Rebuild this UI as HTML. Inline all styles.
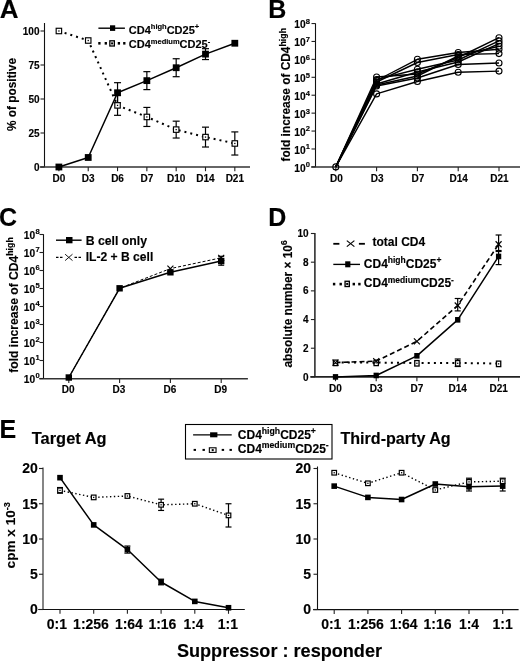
<!DOCTYPE html>
<html><head><meta charset="utf-8"><style>
html,body{margin:0;padding:0;background:#fff;overflow:hidden;}
svg{display:block;filter:blur(0.3px);}
text{font-family:"Liberation Sans", sans-serif;font-weight:bold;fill:#000;stroke:#000;stroke-width:0.15px;}
</style></head><body>
<svg width="520" height="661" viewBox="0 0 520 661">
<text transform="translate(-0.30,17.50) scale(1.040,1)" font-size="25" text-anchor="start" >A</text>
<line x1="44.50" y1="23.00" x2="44.50" y2="166.90" stroke="#111" stroke-width="1.1" stroke-linecap="butt"/>
<line x1="40.00" y1="166.90" x2="250.00" y2="166.90" stroke="#333" stroke-width="1.5" stroke-linecap="butt"/>
<line x1="40.50" y1="167.00" x2="44.50" y2="167.00" stroke="#222" stroke-width="1.1" stroke-linecap="butt"/>
<line x1="40.50" y1="133.00" x2="44.50" y2="133.00" stroke="#222" stroke-width="1.1" stroke-linecap="butt"/>
<line x1="40.50" y1="99.00" x2="44.50" y2="99.00" stroke="#222" stroke-width="1.1" stroke-linecap="butt"/>
<line x1="40.50" y1="65.00" x2="44.50" y2="65.00" stroke="#222" stroke-width="1.1" stroke-linecap="butt"/>
<line x1="40.50" y1="31.00" x2="44.50" y2="31.00" stroke="#222" stroke-width="1.1" stroke-linecap="butt"/>
<line x1="58.90" y1="166.90" x2="58.90" y2="171.20" stroke="#222" stroke-width="1.1" stroke-linecap="butt"/>
<line x1="88.22" y1="166.90" x2="88.22" y2="171.20" stroke="#222" stroke-width="1.1" stroke-linecap="butt"/>
<line x1="117.54" y1="166.90" x2="117.54" y2="171.20" stroke="#222" stroke-width="1.1" stroke-linecap="butt"/>
<line x1="146.86" y1="166.90" x2="146.86" y2="171.20" stroke="#222" stroke-width="1.1" stroke-linecap="butt"/>
<line x1="176.18" y1="166.90" x2="176.18" y2="171.20" stroke="#222" stroke-width="1.1" stroke-linecap="butt"/>
<line x1="205.50" y1="166.90" x2="205.50" y2="171.20" stroke="#222" stroke-width="1.1" stroke-linecap="butt"/>
<line x1="234.82" y1="166.90" x2="234.82" y2="171.20" stroke="#222" stroke-width="1.1" stroke-linecap="butt"/>
<text transform="translate(39.50,170.60)" font-size="10" text-anchor="end" >0</text>
<text transform="translate(39.50,136.60)" font-size="10" text-anchor="end" >25</text>
<text transform="translate(39.50,102.60)" font-size="10" text-anchor="end" >50</text>
<text transform="translate(39.50,68.60)" font-size="10" text-anchor="end" >75</text>
<text transform="translate(39.50,34.60)" font-size="10" text-anchor="end" >100</text>
<text transform="translate(58.90,182.00)" font-size="10" text-anchor="middle" >D0</text>
<text transform="translate(88.22,182.00)" font-size="10" text-anchor="middle" >D3</text>
<text transform="translate(117.54,182.00)" font-size="10" text-anchor="middle" >D6</text>
<text transform="translate(146.86,182.00)" font-size="10" text-anchor="middle" >D7</text>
<text transform="translate(176.18,182.00)" font-size="10" text-anchor="middle" >D10</text>
<text transform="translate(205.50,182.00)" font-size="10" text-anchor="middle" >D14</text>
<text transform="translate(234.82,182.00)" font-size="10" text-anchor="middle" >D21</text>
<text transform="translate(16.30,131.00) rotate(-90)" font-size="11.85" text-anchor="start" >% of positive</text>
<polyline points="58.90,31.00 88.22,40.52 117.54,105.39 146.86,116.95 176.18,129.60 205.50,137.08 234.82,143.47" fill="none" stroke="#000" stroke-width="2.0" stroke-linecap="butt" stroke-linejoin="round" stroke-dasharray="2 4"/>
<polyline points="58.90,167.00 88.22,157.48 117.54,92.74 146.86,80.64 176.18,67.72 205.50,54.12 234.82,43.24" fill="none" stroke="#000" stroke-width="1.5" stroke-linecap="butt" stroke-linejoin="round"/>
<line x1="117.54" y1="82.68" x2="117.54" y2="102.81" stroke="#000" stroke-width="1.2" stroke-linecap="butt"/>
<line x1="114.04" y1="82.68" x2="121.04" y2="82.68" stroke="#000" stroke-width="1.2" stroke-linecap="butt"/>
<line x1="114.04" y1="102.81" x2="121.04" y2="102.81" stroke="#000" stroke-width="1.2" stroke-linecap="butt"/>
<line x1="146.86" y1="71.66" x2="146.86" y2="89.62" stroke="#000" stroke-width="1.2" stroke-linecap="butt"/>
<line x1="143.36" y1="71.66" x2="150.36" y2="71.66" stroke="#000" stroke-width="1.2" stroke-linecap="butt"/>
<line x1="143.36" y1="89.62" x2="150.36" y2="89.62" stroke="#000" stroke-width="1.2" stroke-linecap="butt"/>
<line x1="176.18" y1="58.74" x2="176.18" y2="76.70" stroke="#000" stroke-width="1.2" stroke-linecap="butt"/>
<line x1="172.68" y1="58.74" x2="179.68" y2="58.74" stroke="#000" stroke-width="1.2" stroke-linecap="butt"/>
<line x1="172.68" y1="76.70" x2="179.68" y2="76.70" stroke="#000" stroke-width="1.2" stroke-linecap="butt"/>
<line x1="205.50" y1="48.68" x2="205.50" y2="59.56" stroke="#000" stroke-width="1.2" stroke-linecap="butt"/>
<line x1="202.00" y1="48.68" x2="209.00" y2="48.68" stroke="#000" stroke-width="1.2" stroke-linecap="butt"/>
<line x1="202.00" y1="59.56" x2="209.00" y2="59.56" stroke="#000" stroke-width="1.2" stroke-linecap="butt"/>
<line x1="117.54" y1="95.46" x2="117.54" y2="115.32" stroke="#000" stroke-width="1.2" stroke-linecap="butt"/>
<line x1="114.04" y1="95.46" x2="121.04" y2="95.46" stroke="#000" stroke-width="1.2" stroke-linecap="butt"/>
<line x1="114.04" y1="115.32" x2="121.04" y2="115.32" stroke="#000" stroke-width="1.2" stroke-linecap="butt"/>
<line x1="146.86" y1="107.43" x2="146.86" y2="126.47" stroke="#000" stroke-width="1.2" stroke-linecap="butt"/>
<line x1="143.36" y1="107.43" x2="150.36" y2="107.43" stroke="#000" stroke-width="1.2" stroke-linecap="butt"/>
<line x1="143.36" y1="126.47" x2="150.36" y2="126.47" stroke="#000" stroke-width="1.2" stroke-linecap="butt"/>
<line x1="176.18" y1="121.17" x2="176.18" y2="138.03" stroke="#000" stroke-width="1.2" stroke-linecap="butt"/>
<line x1="172.68" y1="121.17" x2="179.68" y2="121.17" stroke="#000" stroke-width="1.2" stroke-linecap="butt"/>
<line x1="172.68" y1="138.03" x2="179.68" y2="138.03" stroke="#000" stroke-width="1.2" stroke-linecap="butt"/>
<line x1="205.50" y1="127.15" x2="205.50" y2="147.01" stroke="#000" stroke-width="1.2" stroke-linecap="butt"/>
<line x1="202.00" y1="127.15" x2="209.00" y2="127.15" stroke="#000" stroke-width="1.2" stroke-linecap="butt"/>
<line x1="202.00" y1="147.01" x2="209.00" y2="147.01" stroke="#000" stroke-width="1.2" stroke-linecap="butt"/>
<line x1="234.82" y1="131.91" x2="234.82" y2="155.03" stroke="#000" stroke-width="1.2" stroke-linecap="butt"/>
<line x1="231.32" y1="131.91" x2="238.32" y2="131.91" stroke="#000" stroke-width="1.2" stroke-linecap="butt"/>
<line x1="231.32" y1="155.03" x2="238.32" y2="155.03" stroke="#000" stroke-width="1.2" stroke-linecap="butt"/>
<rect x="56.17" y="28.27" width="5.45" height="5.45" fill="#fff" stroke="#000" stroke-width="1.15"/>
<rect x="58.25" y="30.35" width="1.3" height="1.3" fill="#000"/>
<rect x="85.50" y="37.79" width="5.45" height="5.45" fill="#fff" stroke="#000" stroke-width="1.15"/>
<rect x="87.57" y="39.87" width="1.3" height="1.3" fill="#000"/>
<rect x="114.81" y="102.67" width="5.45" height="5.45" fill="#fff" stroke="#000" stroke-width="1.15"/>
<rect x="116.89" y="104.74" width="1.3" height="1.3" fill="#000"/>
<rect x="144.14" y="114.23" width="5.45" height="5.45" fill="#fff" stroke="#000" stroke-width="1.15"/>
<rect x="146.21" y="116.30" width="1.3" height="1.3" fill="#000"/>
<rect x="173.46" y="126.88" width="5.45" height="5.45" fill="#fff" stroke="#000" stroke-width="1.15"/>
<rect x="175.53" y="128.95" width="1.3" height="1.3" fill="#000"/>
<rect x="202.78" y="134.35" width="5.45" height="5.45" fill="#fff" stroke="#000" stroke-width="1.15"/>
<rect x="204.85" y="136.43" width="1.3" height="1.3" fill="#000"/>
<rect x="232.10" y="140.75" width="5.45" height="5.45" fill="#fff" stroke="#000" stroke-width="1.15"/>
<rect x="234.17" y="142.82" width="1.3" height="1.3" fill="#000"/>
<rect x="55.50" y="163.60" width="6.8" height="6.8" fill="#000"/>
<rect x="84.82" y="154.08" width="6.8" height="6.8" fill="#000"/>
<rect x="114.14" y="89.34" width="6.8" height="6.8" fill="#000"/>
<rect x="143.46" y="77.24" width="6.8" height="6.8" fill="#000"/>
<rect x="172.78" y="64.32" width="6.8" height="6.8" fill="#000"/>
<rect x="202.10" y="50.72" width="6.8" height="6.8" fill="#000"/>
<rect x="231.42" y="39.84" width="6.8" height="6.8" fill="#000"/>
<line x1="98.40" y1="28.20" x2="124.90" y2="28.20" stroke="#000" stroke-width="1.4" stroke-linecap="butt"/>
<rect x="110.00" y="25.30" width="5.2" height="5.6" fill="#000"/>
<rect x="98.25" y="42.00" width="2.3" height="2.6" fill="#000"/>
<rect x="104.65" y="42.00" width="2.3" height="2.6" fill="#000"/>
<rect x="117.75" y="42.00" width="2.3" height="2.6" fill="#000"/>
<rect x="123.15" y="42.00" width="2.3" height="2.6" fill="#000"/>
<rect x="109.85" y="40.80" width="4.50" height="5.20" fill="#fff" stroke="#000" stroke-width="1.3"/>
<rect x="111.10" y="42.40" width="2.0" height="2.0" fill="#000"/>
<text transform="translate(128.80,33.60)" font-size="11" text-anchor="start" xml:space="preserve">CD4<tspan font-size="7.5" dy="-4.2">high</tspan><tspan dy="4.2">​</tspan>CD25<tspan font-size="7.5" dy="-4.2">+</tspan><tspan dy="4.2">​</tspan></text>
<text transform="translate(128.80,48.30)" font-size="11" text-anchor="start" xml:space="preserve">CD4<tspan font-size="7.5" dy="-4.2">medium</tspan><tspan dy="4.2">​</tspan>CD25<tspan font-size="7.5" dy="-4.2">-</tspan><tspan dy="4.2">​</tspan></text>
<text transform="translate(268.30,17.60)" font-size="25" text-anchor="start" >B</text>
<line x1="315.50" y1="23.30" x2="315.50" y2="166.95" stroke="#111" stroke-width="1.1" stroke-linecap="butt"/>
<line x1="311.20" y1="166.95" x2="520.00" y2="166.95" stroke="#333" stroke-width="1.5" stroke-linecap="butt"/>
<line x1="311.50" y1="166.90" x2="315.50" y2="166.90" stroke="#222" stroke-width="1.1" stroke-linecap="butt"/>
<line x1="311.50" y1="148.98" x2="315.50" y2="148.98" stroke="#222" stroke-width="1.1" stroke-linecap="butt"/>
<line x1="311.50" y1="131.06" x2="315.50" y2="131.06" stroke="#222" stroke-width="1.1" stroke-linecap="butt"/>
<line x1="311.50" y1="113.14" x2="315.50" y2="113.14" stroke="#222" stroke-width="1.1" stroke-linecap="butt"/>
<line x1="311.50" y1="95.22" x2="315.50" y2="95.22" stroke="#222" stroke-width="1.1" stroke-linecap="butt"/>
<line x1="311.50" y1="77.30" x2="315.50" y2="77.30" stroke="#222" stroke-width="1.1" stroke-linecap="butt"/>
<line x1="311.50" y1="59.38" x2="315.50" y2="59.38" stroke="#222" stroke-width="1.1" stroke-linecap="butt"/>
<line x1="311.50" y1="41.46" x2="315.50" y2="41.46" stroke="#222" stroke-width="1.1" stroke-linecap="butt"/>
<line x1="311.50" y1="23.54" x2="315.50" y2="23.54" stroke="#222" stroke-width="1.1" stroke-linecap="butt"/>
<line x1="335.80" y1="166.95" x2="335.80" y2="171.25" stroke="#222" stroke-width="1.1" stroke-linecap="butt"/>
<line x1="376.60" y1="166.95" x2="376.60" y2="171.25" stroke="#222" stroke-width="1.1" stroke-linecap="butt"/>
<line x1="417.40" y1="166.95" x2="417.40" y2="171.25" stroke="#222" stroke-width="1.1" stroke-linecap="butt"/>
<line x1="458.20" y1="166.95" x2="458.20" y2="171.25" stroke="#222" stroke-width="1.1" stroke-linecap="butt"/>
<line x1="499.00" y1="166.95" x2="499.00" y2="171.25" stroke="#222" stroke-width="1.1" stroke-linecap="butt"/>
<text transform="translate(305.60,171.70)" font-size="10.2" text-anchor="end" >10</text>
<text transform="translate(305.80,167.30)" font-size="7.6" text-anchor="start" >0</text>
<text transform="translate(305.60,153.78)" font-size="10.2" text-anchor="end" >10</text>
<text transform="translate(305.80,149.38)" font-size="7.6" text-anchor="start" >1</text>
<text transform="translate(305.60,135.86)" font-size="10.2" text-anchor="end" >10</text>
<text transform="translate(305.80,131.46)" font-size="7.6" text-anchor="start" >2</text>
<text transform="translate(305.60,117.94)" font-size="10.2" text-anchor="end" >10</text>
<text transform="translate(305.80,113.54)" font-size="7.6" text-anchor="start" >3</text>
<text transform="translate(305.60,100.02)" font-size="10.2" text-anchor="end" >10</text>
<text transform="translate(305.80,95.62)" font-size="7.6" text-anchor="start" >4</text>
<text transform="translate(305.60,82.10)" font-size="10.2" text-anchor="end" >10</text>
<text transform="translate(305.80,77.70)" font-size="7.6" text-anchor="start" >5</text>
<text transform="translate(305.60,64.18)" font-size="10.2" text-anchor="end" >10</text>
<text transform="translate(305.80,59.78)" font-size="7.6" text-anchor="start" >6</text>
<text transform="translate(305.60,46.26)" font-size="10.2" text-anchor="end" >10</text>
<text transform="translate(305.80,41.86)" font-size="7.6" text-anchor="start" >7</text>
<text transform="translate(305.60,28.34)" font-size="10.2" text-anchor="end" >10</text>
<text transform="translate(305.80,23.94)" font-size="7.6" text-anchor="start" >8</text>
<text transform="translate(336.30,181.80)" font-size="10" text-anchor="middle" >D0</text>
<text transform="translate(377.10,181.80)" font-size="10" text-anchor="middle" >D3</text>
<text transform="translate(417.90,181.80)" font-size="10" text-anchor="middle" >D7</text>
<text transform="translate(458.70,181.80)" font-size="10" text-anchor="middle" >D14</text>
<text transform="translate(499.50,181.80)" font-size="10" text-anchor="middle" >D21</text>
<text transform="translate(290.20,161.50) rotate(-90)" font-size="11.9" text-anchor="start" >fold increase of CD4<tspan font-size="8.8" dy="-4.6">high</tspan><tspan dy="4.6">​</tspan></text>
<polyline points="335.80,166.90 376.60,80.50 417.40,59.30 458.20,52.50 499.00,49.30" fill="none" stroke="#000" stroke-width="1.4" stroke-linecap="butt" stroke-linejoin="round"/>
<polyline points="335.80,166.90 376.60,82.00 417.40,62.50 458.20,54.50 499.00,53.60" fill="none" stroke="#000" stroke-width="1.4" stroke-linecap="butt" stroke-linejoin="round"/>
<polyline points="335.80,166.90 376.60,77.00 417.40,74.00 458.20,57.50 499.00,37.70" fill="none" stroke="#000" stroke-width="1.4" stroke-linecap="butt" stroke-linejoin="round"/>
<polyline points="335.80,166.90 376.60,79.60 417.40,69.30 458.20,60.00 499.00,40.90" fill="none" stroke="#000" stroke-width="1.4" stroke-linecap="butt" stroke-linejoin="round"/>
<polyline points="335.80,166.90 376.60,84.00 417.40,72.00 458.20,62.00 499.00,43.60" fill="none" stroke="#000" stroke-width="1.4" stroke-linecap="butt" stroke-linejoin="round"/>
<polyline points="335.80,166.90 376.60,86.00 417.40,78.00 458.20,64.50 499.00,63.00" fill="none" stroke="#000" stroke-width="1.4" stroke-linecap="butt" stroke-linejoin="round"/>
<polyline points="335.80,166.90 376.60,85.00 417.40,76.00 458.20,56.00 499.00,46.20" fill="none" stroke="#000" stroke-width="1.4" stroke-linecap="butt" stroke-linejoin="round"/>
<polyline points="335.80,166.90 376.60,93.90 417.40,81.50 458.20,72.30 499.00,71.10" fill="none" stroke="#000" stroke-width="1.4" stroke-linecap="butt" stroke-linejoin="round"/>
<circle cx="376.60" cy="80.50" r="3.0" fill="none" stroke="#000" stroke-width="1.1"/>
<circle cx="417.40" cy="59.30" r="3.0" fill="none" stroke="#000" stroke-width="1.1"/>
<circle cx="458.20" cy="52.50" r="3.0" fill="none" stroke="#000" stroke-width="1.1"/>
<circle cx="499.00" cy="49.30" r="3.0" fill="none" stroke="#000" stroke-width="1.1"/>
<circle cx="376.60" cy="82.00" r="3.0" fill="none" stroke="#000" stroke-width="1.1"/>
<circle cx="417.40" cy="62.50" r="3.0" fill="none" stroke="#000" stroke-width="1.1"/>
<circle cx="458.20" cy="54.50" r="3.0" fill="none" stroke="#000" stroke-width="1.1"/>
<circle cx="499.00" cy="53.60" r="3.0" fill="none" stroke="#000" stroke-width="1.1"/>
<circle cx="376.60" cy="77.00" r="3.0" fill="none" stroke="#000" stroke-width="1.1"/>
<circle cx="417.40" cy="74.00" r="3.0" fill="none" stroke="#000" stroke-width="1.1"/>
<circle cx="458.20" cy="57.50" r="3.0" fill="none" stroke="#000" stroke-width="1.1"/>
<circle cx="499.00" cy="37.70" r="3.0" fill="none" stroke="#000" stroke-width="1.1"/>
<circle cx="376.60" cy="79.60" r="3.0" fill="none" stroke="#000" stroke-width="1.1"/>
<circle cx="417.40" cy="69.30" r="3.0" fill="none" stroke="#000" stroke-width="1.1"/>
<circle cx="458.20" cy="60.00" r="3.0" fill="none" stroke="#000" stroke-width="1.1"/>
<circle cx="499.00" cy="40.90" r="3.0" fill="none" stroke="#000" stroke-width="1.1"/>
<circle cx="376.60" cy="84.00" r="3.0" fill="none" stroke="#000" stroke-width="1.1"/>
<circle cx="417.40" cy="72.00" r="3.0" fill="none" stroke="#000" stroke-width="1.1"/>
<circle cx="458.20" cy="62.00" r="3.0" fill="none" stroke="#000" stroke-width="1.1"/>
<circle cx="499.00" cy="43.60" r="3.0" fill="none" stroke="#000" stroke-width="1.1"/>
<circle cx="376.60" cy="86.00" r="3.0" fill="none" stroke="#000" stroke-width="1.1"/>
<circle cx="417.40" cy="78.00" r="3.0" fill="none" stroke="#000" stroke-width="1.1"/>
<circle cx="458.20" cy="64.50" r="3.0" fill="none" stroke="#000" stroke-width="1.1"/>
<circle cx="499.00" cy="63.00" r="3.0" fill="none" stroke="#000" stroke-width="1.1"/>
<circle cx="376.60" cy="85.00" r="3.0" fill="none" stroke="#000" stroke-width="1.1"/>
<circle cx="417.40" cy="76.00" r="3.0" fill="none" stroke="#000" stroke-width="1.1"/>
<circle cx="458.20" cy="56.00" r="3.0" fill="none" stroke="#000" stroke-width="1.1"/>
<circle cx="499.00" cy="46.20" r="3.0" fill="none" stroke="#000" stroke-width="1.1"/>
<circle cx="376.60" cy="93.90" r="3.0" fill="none" stroke="#000" stroke-width="1.1"/>
<circle cx="417.40" cy="81.50" r="3.0" fill="none" stroke="#000" stroke-width="1.1"/>
<circle cx="458.20" cy="72.30" r="3.0" fill="none" stroke="#000" stroke-width="1.1"/>
<circle cx="499.00" cy="71.10" r="3.0" fill="none" stroke="#000" stroke-width="1.1"/>
<circle cx="335.80" cy="166.90" r="3.0" fill="none" stroke="#000" stroke-width="1.1"/>
<text transform="translate(-1.00,226.00)" font-size="25" text-anchor="start" >C</text>
<line x1="43.50" y1="234.20" x2="43.50" y2="378.65" stroke="#111" stroke-width="1.1" stroke-linecap="butt"/>
<line x1="39.30" y1="378.65" x2="247.90" y2="378.65" stroke="#333" stroke-width="1.5" stroke-linecap="butt"/>
<line x1="39.50" y1="378.50" x2="43.50" y2="378.50" stroke="#222" stroke-width="1.1" stroke-linecap="butt"/>
<line x1="39.50" y1="360.50" x2="43.50" y2="360.50" stroke="#222" stroke-width="1.1" stroke-linecap="butt"/>
<line x1="39.50" y1="342.50" x2="43.50" y2="342.50" stroke="#222" stroke-width="1.1" stroke-linecap="butt"/>
<line x1="39.50" y1="324.50" x2="43.50" y2="324.50" stroke="#222" stroke-width="1.1" stroke-linecap="butt"/>
<line x1="39.50" y1="306.50" x2="43.50" y2="306.50" stroke="#222" stroke-width="1.1" stroke-linecap="butt"/>
<line x1="39.50" y1="288.50" x2="43.50" y2="288.50" stroke="#222" stroke-width="1.1" stroke-linecap="butt"/>
<line x1="39.50" y1="270.50" x2="43.50" y2="270.50" stroke="#222" stroke-width="1.1" stroke-linecap="butt"/>
<line x1="39.50" y1="252.50" x2="43.50" y2="252.50" stroke="#222" stroke-width="1.1" stroke-linecap="butt"/>
<line x1="39.50" y1="234.50" x2="43.50" y2="234.50" stroke="#222" stroke-width="1.1" stroke-linecap="butt"/>
<line x1="68.80" y1="378.65" x2="68.80" y2="382.95" stroke="#222" stroke-width="1.1" stroke-linecap="butt"/>
<line x1="119.60" y1="378.65" x2="119.60" y2="382.95" stroke="#222" stroke-width="1.1" stroke-linecap="butt"/>
<line x1="170.40" y1="378.65" x2="170.40" y2="382.95" stroke="#222" stroke-width="1.1" stroke-linecap="butt"/>
<line x1="221.20" y1="378.65" x2="221.20" y2="382.95" stroke="#222" stroke-width="1.1" stroke-linecap="butt"/>
<text transform="translate(35.20,382.70)" font-size="10.2" text-anchor="end" >10</text>
<text transform="translate(35.40,378.30)" font-size="7.6" text-anchor="start" >0</text>
<text transform="translate(35.20,364.70)" font-size="10.2" text-anchor="end" >10</text>
<text transform="translate(35.40,360.30)" font-size="7.6" text-anchor="start" >1</text>
<text transform="translate(35.20,346.70)" font-size="10.2" text-anchor="end" >10</text>
<text transform="translate(35.40,342.30)" font-size="7.6" text-anchor="start" >2</text>
<text transform="translate(35.20,328.70)" font-size="10.2" text-anchor="end" >10</text>
<text transform="translate(35.40,324.30)" font-size="7.6" text-anchor="start" >3</text>
<text transform="translate(35.20,310.70)" font-size="10.2" text-anchor="end" >10</text>
<text transform="translate(35.40,306.30)" font-size="7.6" text-anchor="start" >4</text>
<text transform="translate(35.20,292.70)" font-size="10.2" text-anchor="end" >10</text>
<text transform="translate(35.40,288.30)" font-size="7.6" text-anchor="start" >5</text>
<text transform="translate(35.20,274.70)" font-size="10.2" text-anchor="end" >10</text>
<text transform="translate(35.40,270.30)" font-size="7.6" text-anchor="start" >6</text>
<text transform="translate(35.20,256.70)" font-size="10.2" text-anchor="end" >10</text>
<text transform="translate(35.40,252.30)" font-size="7.6" text-anchor="start" >7</text>
<text transform="translate(35.20,238.70)" font-size="10.2" text-anchor="end" >10</text>
<text transform="translate(35.40,234.30)" font-size="7.6" text-anchor="start" >8</text>
<text transform="translate(68.20,393.30)" font-size="10" text-anchor="middle" >D0</text>
<text transform="translate(119.00,393.30)" font-size="10" text-anchor="middle" >D3</text>
<text transform="translate(169.80,393.30)" font-size="10" text-anchor="middle" >D6</text>
<text transform="translate(220.60,393.30)" font-size="10" text-anchor="middle" >D9</text>
<text transform="translate(18.00,372.70) rotate(-90)" font-size="12.1" text-anchor="start" >fold increase of CD4<tspan font-size="8.8" dy="-4.6">high</tspan><tspan dy="4.6">​</tspan></text>
<polyline points="68.80,377.50 119.60,288.30 170.40,268.60 221.20,257.80" fill="none" stroke="#000" stroke-width="1.0" stroke-linecap="butt" stroke-linejoin="round" stroke-dasharray="3 2"/>
<polyline points="68.80,377.50 119.60,288.30 170.40,272.30 221.20,261.00" fill="none" stroke="#000" stroke-width="1.5" stroke-linecap="butt" stroke-linejoin="round"/>
<line x1="221.20" y1="256.30" x2="221.20" y2="265.20" stroke="#000" stroke-width="1.2" stroke-linecap="butt"/>
<line x1="218.20" y1="256.30" x2="224.20" y2="256.30" stroke="#000" stroke-width="1.2" stroke-linecap="butt"/>
<line x1="218.20" y1="265.20" x2="224.20" y2="265.20" stroke="#000" stroke-width="1.2" stroke-linecap="butt"/>
<rect x="65.60" y="374.30" width="6.4" height="6.4" fill="#000"/>
<rect x="116.40" y="285.10" width="6.4" height="6.4" fill="#000"/>
<rect x="167.20" y="269.10" width="6.4" height="6.4" fill="#000"/>
<rect x="218.00" y="257.80" width="6.4" height="6.4" fill="#000"/>
<line x1="167.40" y1="265.60" x2="173.40" y2="271.60" stroke="#000" stroke-width="1.1" stroke-linecap="butt"/>
<line x1="167.40" y1="271.60" x2="173.40" y2="265.60" stroke="#000" stroke-width="1.1" stroke-linecap="butt"/>
<line x1="218.20" y1="254.80" x2="224.20" y2="260.80" stroke="#000" stroke-width="1.1" stroke-linecap="butt"/>
<line x1="218.20" y1="260.80" x2="224.20" y2="254.80" stroke="#000" stroke-width="1.1" stroke-linecap="butt"/>
<line x1="56.00" y1="240.20" x2="81.60" y2="240.20" stroke="#000" stroke-width="1.4" stroke-linecap="butt"/>
<rect x="66.00" y="237.00" width="6.5" height="6.3" fill="#000"/>
<line x1="56.00" y1="257.40" x2="64.00" y2="257.40" stroke="#000" stroke-width="1.3" stroke-linecap="butt" stroke-dasharray="2.5 1.5"/>
<line x1="74.50" y1="257.40" x2="81.60" y2="257.40" stroke="#000" stroke-width="1.3" stroke-linecap="butt" stroke-dasharray="2.5 1.5"/>
<line x1="65.10" y1="254.20" x2="72.50" y2="260.60" stroke="#000" stroke-width="0.9" stroke-linecap="butt"/>
<line x1="65.10" y1="260.60" x2="72.50" y2="254.20" stroke="#000" stroke-width="0.9" stroke-linecap="butt"/>
<text transform="translate(85.70,244.80)" font-size="12.25" text-anchor="start" >B cell only</text>
<text transform="translate(85.70,261.40)" font-size="12.1" text-anchor="start" >IL-2 + B cell</text>
<text transform="translate(268.30,226.00)" font-size="25" text-anchor="start" >D</text>
<line x1="314.90" y1="232.90" x2="314.90" y2="376.90" stroke="#222" stroke-width="1.5" stroke-linecap="butt"/>
<line x1="310.30" y1="376.90" x2="520.00" y2="376.90" stroke="#222" stroke-width="1.6" stroke-linecap="butt"/>
<line x1="310.90" y1="376.90" x2="314.90" y2="376.90" stroke="#222" stroke-width="1.1" stroke-linecap="butt"/>
<line x1="310.90" y1="348.22" x2="314.90" y2="348.22" stroke="#222" stroke-width="1.1" stroke-linecap="butt"/>
<line x1="310.90" y1="319.54" x2="314.90" y2="319.54" stroke="#222" stroke-width="1.1" stroke-linecap="butt"/>
<line x1="310.90" y1="290.86" x2="314.90" y2="290.86" stroke="#222" stroke-width="1.1" stroke-linecap="butt"/>
<line x1="310.90" y1="262.18" x2="314.90" y2="262.18" stroke="#222" stroke-width="1.1" stroke-linecap="butt"/>
<line x1="310.90" y1="233.50" x2="314.90" y2="233.50" stroke="#222" stroke-width="1.1" stroke-linecap="butt"/>
<line x1="335.50" y1="376.90" x2="335.50" y2="381.20" stroke="#222" stroke-width="1.1" stroke-linecap="butt"/>
<line x1="376.20" y1="376.90" x2="376.20" y2="381.20" stroke="#222" stroke-width="1.1" stroke-linecap="butt"/>
<line x1="416.90" y1="376.90" x2="416.90" y2="381.20" stroke="#222" stroke-width="1.1" stroke-linecap="butt"/>
<line x1="457.70" y1="376.90" x2="457.70" y2="381.20" stroke="#222" stroke-width="1.1" stroke-linecap="butt"/>
<line x1="498.60" y1="376.90" x2="498.60" y2="381.20" stroke="#222" stroke-width="1.1" stroke-linecap="butt"/>
<text transform="translate(308.60,380.50)" font-size="10" text-anchor="end" >0</text>
<text transform="translate(308.60,351.82)" font-size="10" text-anchor="end" >2</text>
<text transform="translate(308.60,323.14)" font-size="10" text-anchor="end" >4</text>
<text transform="translate(308.60,294.46)" font-size="10" text-anchor="end" >6</text>
<text transform="translate(308.60,265.78)" font-size="10" text-anchor="end" >8</text>
<text transform="translate(308.60,237.10)" font-size="10" text-anchor="end" >10</text>
<text transform="translate(335.50,391.80)" font-size="10" text-anchor="middle" >D0</text>
<text transform="translate(376.20,391.80)" font-size="10" text-anchor="middle" >D3</text>
<text transform="translate(416.90,391.80)" font-size="10" text-anchor="middle" >D7</text>
<text transform="translate(457.70,391.80)" font-size="10" text-anchor="middle" >D14</text>
<text transform="translate(498.60,391.80)" font-size="10" text-anchor="middle" >D21</text>
<text transform="translate(292.00,367.60) rotate(-90)" font-size="11.9" text-anchor="start" xml:space="preserve">absolute number &#215; 10<tspan font-size="8.5" dy="-5">6</tspan><tspan dy="5">​</tspan></text>
<polyline points="335.50,362.56 376.20,362.56 416.90,362.99 457.70,362.99 498.60,363.56" fill="none" stroke="#000" stroke-width="2.0" stroke-linecap="butt" stroke-linejoin="round" stroke-dasharray="2 4.15"/>
<polyline points="335.50,362.56 376.20,361.13 416.90,341.34 457.70,305.49 498.60,244.25" fill="none" stroke="#000" stroke-width="1.6" stroke-linecap="butt" stroke-linejoin="round" stroke-dasharray="5 3"/>
<polyline points="335.50,376.90 376.20,375.47 416.90,355.82 457.70,319.83 498.60,256.44" fill="none" stroke="#000" stroke-width="1.5" stroke-linecap="butt" stroke-linejoin="round"/>
<line x1="457.70" y1="298.50" x2="457.70" y2="310.90" stroke="#000" stroke-width="1.2" stroke-linecap="butt"/>
<line x1="454.70" y1="298.50" x2="460.70" y2="298.50" stroke="#000" stroke-width="1.2" stroke-linecap="butt"/>
<line x1="454.70" y1="310.90" x2="460.70" y2="310.90" stroke="#000" stroke-width="1.2" stroke-linecap="butt"/>
<line x1="498.60" y1="235.00" x2="498.60" y2="250.50" stroke="#000" stroke-width="1.2" stroke-linecap="butt"/>
<line x1="495.60" y1="235.00" x2="501.60" y2="235.00" stroke="#000" stroke-width="1.2" stroke-linecap="butt"/>
<line x1="495.60" y1="250.50" x2="501.60" y2="250.50" stroke="#000" stroke-width="1.2" stroke-linecap="butt"/>
<line x1="498.60" y1="251.50" x2="498.60" y2="264.60" stroke="#000" stroke-width="1.2" stroke-linecap="butt"/>
<line x1="495.60" y1="251.50" x2="501.60" y2="251.50" stroke="#000" stroke-width="1.2" stroke-linecap="butt"/>
<line x1="495.60" y1="264.60" x2="501.60" y2="264.60" stroke="#000" stroke-width="1.2" stroke-linecap="butt"/>
<line x1="457.70" y1="359.00" x2="457.70" y2="366.50" stroke="#000" stroke-width="1.2" stroke-linecap="butt"/>
<line x1="454.70" y1="359.00" x2="460.70" y2="359.00" stroke="#000" stroke-width="1.2" stroke-linecap="butt"/>
<line x1="454.70" y1="366.50" x2="460.70" y2="366.50" stroke="#000" stroke-width="1.2" stroke-linecap="butt"/>
<rect x="333.35" y="360.11" width="4.30" height="5.50" fill="#fff" stroke="#000" stroke-width="1.3"/>
<rect x="334.85" y="362.21" width="1.3" height="1.3" fill="#000"/>
<rect x="374.05" y="360.11" width="4.30" height="5.50" fill="#fff" stroke="#000" stroke-width="1.3"/>
<rect x="375.55" y="362.21" width="1.3" height="1.3" fill="#000"/>
<rect x="414.75" y="360.54" width="4.30" height="5.50" fill="#fff" stroke="#000" stroke-width="1.3"/>
<rect x="416.25" y="362.64" width="1.3" height="1.3" fill="#000"/>
<rect x="455.55" y="360.54" width="4.30" height="5.50" fill="#fff" stroke="#000" stroke-width="1.3"/>
<rect x="457.05" y="362.64" width="1.3" height="1.3" fill="#000"/>
<rect x="496.45" y="361.11" width="4.30" height="5.50" fill="#fff" stroke="#000" stroke-width="1.3"/>
<rect x="497.95" y="363.21" width="1.3" height="1.3" fill="#000"/>
<rect x="332.85" y="374.10" width="5.3" height="5.6" fill="#000"/>
<rect x="373.55" y="372.67" width="5.3" height="5.6" fill="#000"/>
<rect x="414.25" y="353.02" width="5.3" height="5.6" fill="#000"/>
<rect x="455.05" y="317.03" width="5.3" height="5.6" fill="#000"/>
<rect x="495.95" y="253.64" width="5.3" height="5.6" fill="#000"/>
<line x1="332.50" y1="359.56" x2="338.50" y2="365.56" stroke="#000" stroke-width="1.1" stroke-linecap="butt"/>
<line x1="332.50" y1="365.56" x2="338.50" y2="359.56" stroke="#000" stroke-width="1.1" stroke-linecap="butt"/>
<line x1="373.20" y1="358.13" x2="379.20" y2="364.13" stroke="#000" stroke-width="1.1" stroke-linecap="butt"/>
<line x1="373.20" y1="364.13" x2="379.20" y2="358.13" stroke="#000" stroke-width="1.1" stroke-linecap="butt"/>
<line x1="413.90" y1="338.34" x2="419.90" y2="344.34" stroke="#000" stroke-width="1.1" stroke-linecap="butt"/>
<line x1="413.90" y1="344.34" x2="419.90" y2="338.34" stroke="#000" stroke-width="1.1" stroke-linecap="butt"/>
<line x1="454.70" y1="302.49" x2="460.70" y2="308.49" stroke="#000" stroke-width="1.1" stroke-linecap="butt"/>
<line x1="454.70" y1="308.49" x2="460.70" y2="302.49" stroke="#000" stroke-width="1.1" stroke-linecap="butt"/>
<line x1="495.60" y1="241.25" x2="501.60" y2="247.25" stroke="#000" stroke-width="1.1" stroke-linecap="butt"/>
<line x1="495.60" y1="247.25" x2="501.60" y2="241.25" stroke="#000" stroke-width="1.1" stroke-linecap="butt"/>
<line x1="333.30" y1="243.80" x2="339.40" y2="243.80" stroke="#000" stroke-width="1.8" stroke-linecap="butt"/>
<line x1="358.90" y1="243.80" x2="364.90" y2="243.80" stroke="#000" stroke-width="1.8" stroke-linecap="butt"/>
<line x1="346.80" y1="240.60" x2="354.40" y2="246.60" stroke="#000" stroke-width="1.2" stroke-linecap="butt"/>
<line x1="346.80" y1="246.60" x2="354.40" y2="240.60" stroke="#000" stroke-width="1.2" stroke-linecap="butt"/>
<line x1="333.30" y1="264.40" x2="360.00" y2="264.40" stroke="#000" stroke-width="1.35" stroke-linecap="butt"/>
<rect x="345.20" y="261.30" width="5.2" height="6" fill="#000"/>
<rect x="332.90" y="282.80" width="2.4" height="2.6" fill="#000"/>
<rect x="339.50" y="282.80" width="2.4" height="2.6" fill="#000"/>
<rect x="352.60" y="282.80" width="2.4" height="2.6" fill="#000"/>
<rect x="358.20" y="282.80" width="2.4" height="2.6" fill="#000"/>
<rect x="345.07" y="281.27" width="4.25" height="5.25" fill="#fff" stroke="#000" stroke-width="1.35"/>
<rect x="346.20" y="282.90" width="2.0" height="2.0" fill="#000"/>
<text transform="translate(372.50,246.30)" font-size="12" text-anchor="start" >total CD4</text>
<text transform="translate(363.80,267.50)" font-size="12" text-anchor="start" xml:space="preserve">CD4<tspan font-size="8.5" dy="-4.5">high</tspan><tspan dy="4.5">​</tspan>CD25<tspan font-size="8.5" dy="-4.5">+</tspan><tspan dy="4.5">​</tspan></text>
<text transform="translate(363.80,287.00)" font-size="12" text-anchor="start" xml:space="preserve">CD4<tspan font-size="8.5" dy="-4.5">medium</tspan><tspan dy="4.5">​</tspan>CD25<tspan font-size="8.5" dy="-4.5">-</tspan><tspan dy="4.5">​</tspan></text>
<text transform="translate(-0.50,438.30)" font-size="25" text-anchor="start" >E</text>
<text transform="translate(31.80,443.80) scale(1.020,1)" font-size="16.1" text-anchor="start" >Target Ag</text>
<text transform="translate(340.40,443.70)" font-size="16.1" text-anchor="start" >Third-party Ag</text>
<line x1="43.00" y1="467.50" x2="43.00" y2="609.50" stroke="#444" stroke-width="1.3" stroke-linecap="butt"/>
<line x1="38.20" y1="609.50" x2="244.80" y2="609.50" stroke="#111" stroke-width="1.1" stroke-linecap="butt"/>
<line x1="39.00" y1="609.50" x2="43.00" y2="609.50" stroke="#222" stroke-width="1.1" stroke-linecap="butt"/>
<line x1="39.00" y1="574.25" x2="43.00" y2="574.25" stroke="#222" stroke-width="1.1" stroke-linecap="butt"/>
<line x1="39.00" y1="539.00" x2="43.00" y2="539.00" stroke="#222" stroke-width="1.1" stroke-linecap="butt"/>
<line x1="39.00" y1="503.75" x2="43.00" y2="503.75" stroke="#222" stroke-width="1.1" stroke-linecap="butt"/>
<line x1="39.00" y1="468.50" x2="43.00" y2="468.50" stroke="#222" stroke-width="1.1" stroke-linecap="butt"/>
<line x1="60.00" y1="609.50" x2="60.00" y2="613.80" stroke="#222" stroke-width="1.1" stroke-linecap="butt"/>
<line x1="93.70" y1="609.50" x2="93.70" y2="613.80" stroke="#222" stroke-width="1.1" stroke-linecap="butt"/>
<line x1="127.40" y1="609.50" x2="127.40" y2="613.80" stroke="#222" stroke-width="1.1" stroke-linecap="butt"/>
<line x1="161.10" y1="609.50" x2="161.10" y2="613.80" stroke="#222" stroke-width="1.1" stroke-linecap="butt"/>
<line x1="194.80" y1="609.50" x2="194.80" y2="613.80" stroke="#222" stroke-width="1.1" stroke-linecap="butt"/>
<line x1="228.50" y1="609.50" x2="228.50" y2="613.80" stroke="#222" stroke-width="1.1" stroke-linecap="butt"/>
<text transform="translate(37.80,614.40)" font-size="14" text-anchor="end" >0</text>
<text transform="translate(37.80,579.15)" font-size="14" text-anchor="end" >5</text>
<text transform="translate(37.80,543.90)" font-size="14" text-anchor="end" >10</text>
<text transform="translate(37.80,508.65)" font-size="14" text-anchor="end" >15</text>
<text transform="translate(37.80,473.40)" font-size="14" text-anchor="end" >20</text>
<text transform="translate(56.80,628.90)" font-size="14" text-anchor="middle" >0:1</text>
<text transform="translate(91.00,628.90)" font-size="14" text-anchor="middle" >1:256</text>
<text transform="translate(128.90,628.90)" font-size="14" text-anchor="middle" >1:64</text>
<text transform="translate(162.40,628.90)" font-size="14" text-anchor="middle" >1:16</text>
<text transform="translate(193.50,628.90)" font-size="14" text-anchor="middle" >1:4</text>
<text transform="translate(227.80,628.90)" font-size="14" text-anchor="middle" >1:1</text>
<text transform="translate(15.20,568.40) rotate(-90)" font-size="13.6" text-anchor="start" xml:space="preserve">cpm x 10<tspan font-size="9.2" dy="-5.6">-3</tspan><tspan dy="5.6">​</tspan></text>
<polyline points="60.00,490.36 93.70,497.40 127.40,496.00 161.10,504.81 194.80,503.75 228.50,515.38" fill="none" stroke="#000" stroke-width="1.4" stroke-linecap="butt" stroke-linejoin="round" stroke-dasharray="1.4 2.5"/>
<polyline points="60.00,477.67 93.70,524.90 127.40,549.58 161.10,582.00 194.80,601.39 228.50,607.74" fill="none" stroke="#000" stroke-width="1.5" stroke-linecap="butt" stroke-linejoin="round"/>
<line x1="60.00" y1="487.54" x2="60.00" y2="493.18" stroke="#000" stroke-width="1.2" stroke-linecap="butt"/>
<line x1="57.00" y1="487.54" x2="63.00" y2="487.54" stroke="#000" stroke-width="1.2" stroke-linecap="butt"/>
<line x1="57.00" y1="493.18" x2="63.00" y2="493.18" stroke="#000" stroke-width="1.2" stroke-linecap="butt"/>
<line x1="161.10" y1="499.17" x2="161.10" y2="510.45" stroke="#000" stroke-width="1.2" stroke-linecap="butt"/>
<line x1="158.10" y1="499.17" x2="164.10" y2="499.17" stroke="#000" stroke-width="1.2" stroke-linecap="butt"/>
<line x1="158.10" y1="510.45" x2="164.10" y2="510.45" stroke="#000" stroke-width="1.2" stroke-linecap="butt"/>
<line x1="228.50" y1="503.75" x2="228.50" y2="527.01" stroke="#000" stroke-width="1.2" stroke-linecap="butt"/>
<line x1="225.50" y1="503.75" x2="231.50" y2="503.75" stroke="#000" stroke-width="1.2" stroke-linecap="butt"/>
<line x1="225.50" y1="527.01" x2="231.50" y2="527.01" stroke="#000" stroke-width="1.2" stroke-linecap="butt"/>
<line x1="127.40" y1="546.05" x2="127.40" y2="553.10" stroke="#000" stroke-width="1.2" stroke-linecap="butt"/>
<line x1="124.40" y1="546.05" x2="130.40" y2="546.05" stroke="#000" stroke-width="1.2" stroke-linecap="butt"/>
<line x1="124.40" y1="553.10" x2="130.40" y2="553.10" stroke="#000" stroke-width="1.2" stroke-linecap="butt"/>
<line x1="161.10" y1="579.18" x2="161.10" y2="584.83" stroke="#000" stroke-width="1.2" stroke-linecap="butt"/>
<line x1="158.10" y1="579.18" x2="164.10" y2="579.18" stroke="#000" stroke-width="1.2" stroke-linecap="butt"/>
<line x1="158.10" y1="584.83" x2="164.10" y2="584.83" stroke="#000" stroke-width="1.2" stroke-linecap="butt"/>
<rect x="57.70" y="488.06" width="4.60" height="4.60" fill="#fff" stroke="#000" stroke-width="1.2"/>
<rect x="59.35" y="489.71" width="1.3" height="1.3" fill="#000"/>
<rect x="91.40" y="495.10" width="4.60" height="4.60" fill="#fff" stroke="#000" stroke-width="1.2"/>
<rect x="93.05" y="496.75" width="1.3" height="1.3" fill="#000"/>
<rect x="125.10" y="493.69" width="4.60" height="4.60" fill="#fff" stroke="#000" stroke-width="1.2"/>
<rect x="126.75" y="495.35" width="1.3" height="1.3" fill="#000"/>
<rect x="158.80" y="502.51" width="4.60" height="4.60" fill="#fff" stroke="#000" stroke-width="1.2"/>
<rect x="160.45" y="504.16" width="1.3" height="1.3" fill="#000"/>
<rect x="192.50" y="501.45" width="4.60" height="4.60" fill="#fff" stroke="#000" stroke-width="1.2"/>
<rect x="194.15" y="503.10" width="1.3" height="1.3" fill="#000"/>
<rect x="226.20" y="513.08" width="4.60" height="4.60" fill="#fff" stroke="#000" stroke-width="1.2"/>
<rect x="227.85" y="514.73" width="1.3" height="1.3" fill="#000"/>
<rect x="57.20" y="474.87" width="5.6" height="5.6" fill="#000"/>
<rect x="90.90" y="522.10" width="5.6" height="5.6" fill="#000"/>
<rect x="124.60" y="546.78" width="5.6" height="5.6" fill="#000"/>
<rect x="158.30" y="579.21" width="5.6" height="5.6" fill="#000"/>
<rect x="192.00" y="598.59" width="5.6" height="5.6" fill="#000"/>
<rect x="225.70" y="604.94" width="5.6" height="5.6" fill="#000"/>
<line x1="317.50" y1="466.50" x2="317.50" y2="609.60" stroke="#111" stroke-width="1.1" stroke-linecap="butt"/>
<line x1="313.10" y1="609.60" x2="518.60" y2="609.60" stroke="#111" stroke-width="1.3" stroke-linecap="butt"/>
<line x1="313.50" y1="609.50" x2="317.50" y2="609.50" stroke="#222" stroke-width="1.1" stroke-linecap="butt"/>
<line x1="313.50" y1="574.25" x2="317.50" y2="574.25" stroke="#222" stroke-width="1.1" stroke-linecap="butt"/>
<line x1="313.50" y1="539.00" x2="317.50" y2="539.00" stroke="#222" stroke-width="1.1" stroke-linecap="butt"/>
<line x1="313.50" y1="503.75" x2="317.50" y2="503.75" stroke="#222" stroke-width="1.1" stroke-linecap="butt"/>
<line x1="313.50" y1="468.50" x2="317.50" y2="468.50" stroke="#222" stroke-width="1.1" stroke-linecap="butt"/>
<line x1="334.20" y1="609.60" x2="334.20" y2="613.90" stroke="#222" stroke-width="1.1" stroke-linecap="butt"/>
<line x1="367.90" y1="609.60" x2="367.90" y2="613.90" stroke="#222" stroke-width="1.1" stroke-linecap="butt"/>
<line x1="401.60" y1="609.60" x2="401.60" y2="613.90" stroke="#222" stroke-width="1.1" stroke-linecap="butt"/>
<line x1="435.30" y1="609.60" x2="435.30" y2="613.90" stroke="#222" stroke-width="1.1" stroke-linecap="butt"/>
<line x1="469.00" y1="609.60" x2="469.00" y2="613.90" stroke="#222" stroke-width="1.1" stroke-linecap="butt"/>
<line x1="502.70" y1="609.60" x2="502.70" y2="613.90" stroke="#222" stroke-width="1.1" stroke-linecap="butt"/>
<text transform="translate(311.00,614.40)" font-size="14" text-anchor="end" >0</text>
<text transform="translate(311.00,579.15)" font-size="14" text-anchor="end" >5</text>
<text transform="translate(311.00,543.90)" font-size="14" text-anchor="end" >10</text>
<text transform="translate(311.00,508.65)" font-size="14" text-anchor="end" >15</text>
<text transform="translate(311.00,473.40)" font-size="14" text-anchor="end" >20</text>
<text transform="translate(331.25,628.70)" font-size="14" text-anchor="middle" >0:1</text>
<text transform="translate(365.95,628.70)" font-size="14" text-anchor="middle" >1:256</text>
<text transform="translate(403.65,628.70)" font-size="14" text-anchor="middle" >1:64</text>
<text transform="translate(437.50,628.70)" font-size="14" text-anchor="middle" >1:16</text>
<text transform="translate(469.00,628.70)" font-size="14" text-anchor="middle" >1:4</text>
<text transform="translate(502.60,628.70)" font-size="14" text-anchor="middle" >1:1</text>
<polyline points="334.20,472.73 367.90,483.31 401.60,472.73 435.30,490.00 469.00,481.89 502.70,481.19" fill="none" stroke="#000" stroke-width="1.4" stroke-linecap="butt" stroke-linejoin="round" stroke-dasharray="1.4 2.5"/>
<polyline points="334.20,486.12 367.90,497.40 401.60,499.52 435.30,484.01 469.00,486.83 502.70,486.12" fill="none" stroke="#000" stroke-width="1.5" stroke-linecap="butt" stroke-linejoin="round"/>
<line x1="469.00" y1="478.20" x2="469.00" y2="491.00" stroke="#000" stroke-width="1.2" stroke-linecap="butt"/>
<line x1="466.00" y1="478.20" x2="472.00" y2="478.20" stroke="#000" stroke-width="1.2" stroke-linecap="butt"/>
<line x1="466.00" y1="491.00" x2="472.00" y2="491.00" stroke="#000" stroke-width="1.2" stroke-linecap="butt"/>
<line x1="502.70" y1="478.20" x2="502.70" y2="491.00" stroke="#000" stroke-width="1.2" stroke-linecap="butt"/>
<line x1="499.70" y1="478.20" x2="505.70" y2="478.20" stroke="#000" stroke-width="1.2" stroke-linecap="butt"/>
<line x1="499.70" y1="491.00" x2="505.70" y2="491.00" stroke="#000" stroke-width="1.2" stroke-linecap="butt"/>
<rect x="331.90" y="470.43" width="4.60" height="4.60" fill="#fff" stroke="#000" stroke-width="1.2"/>
<rect x="333.55" y="472.08" width="1.3" height="1.3" fill="#000"/>
<rect x="365.60" y="481.00" width="4.60" height="4.60" fill="#fff" stroke="#000" stroke-width="1.2"/>
<rect x="367.25" y="482.66" width="1.3" height="1.3" fill="#000"/>
<rect x="399.30" y="470.43" width="4.60" height="4.60" fill="#fff" stroke="#000" stroke-width="1.2"/>
<rect x="400.95" y="472.08" width="1.3" height="1.3" fill="#000"/>
<rect x="433.00" y="487.70" width="4.60" height="4.60" fill="#fff" stroke="#000" stroke-width="1.2"/>
<rect x="434.65" y="489.35" width="1.3" height="1.3" fill="#000"/>
<rect x="466.70" y="479.59" width="4.60" height="4.60" fill="#fff" stroke="#000" stroke-width="1.2"/>
<rect x="468.35" y="481.25" width="1.3" height="1.3" fill="#000"/>
<rect x="500.40" y="478.89" width="4.60" height="4.60" fill="#fff" stroke="#000" stroke-width="1.2"/>
<rect x="502.05" y="480.54" width="1.3" height="1.3" fill="#000"/>
<rect x="331.40" y="483.32" width="5.6" height="5.6" fill="#000"/>
<rect x="365.10" y="494.60" width="5.6" height="5.6" fill="#000"/>
<rect x="398.80" y="496.72" width="5.6" height="5.6" fill="#000"/>
<rect x="432.50" y="481.21" width="5.6" height="5.6" fill="#000"/>
<rect x="466.20" y="484.03" width="5.6" height="5.6" fill="#000"/>
<rect x="499.90" y="483.32" width="5.6" height="5.6" fill="#000"/>
<rect x="185.5" y="424.5" width="146.5" height="34.5" fill="#fff" stroke="#000" stroke-width="1.1"/>
<line x1="193.10" y1="434.90" x2="231.70" y2="434.90" stroke="#000" stroke-width="1.35" stroke-linecap="butt"/>
<rect x="210.10" y="432.30" width="7.3" height="5" fill="#000"/>
<rect x="193.60" y="448.90" width="2.4" height="2" fill="#000"/>
<rect x="202.50" y="448.90" width="2.4" height="2" fill="#000"/>
<rect x="221.70" y="448.90" width="2.4" height="2" fill="#000"/>
<rect x="229.50" y="448.90" width="2.4" height="2" fill="#000"/>
<rect x="209.35" y="447.80" width="6.70" height="4.60" fill="#fff" stroke="#000" stroke-width="1.1"/>
<rect x="211.70" y="449.10" width="2.0" height="2.0" fill="#000"/>
<text transform="translate(237.80,439.00)" font-size="12" text-anchor="start" xml:space="preserve">CD4<tspan font-size="8.7" dy="-4.8">high</tspan><tspan dy="4.8">​</tspan>CD25<tspan font-size="8.7" dy="-4.8">+</tspan><tspan dy="4.8">​</tspan></text>
<text transform="translate(237.80,452.80)" font-size="12" text-anchor="start" xml:space="preserve">CD4<tspan font-size="8.7" dy="-4.8">medium</tspan><tspan dy="4.8">​</tspan>CD25<tspan font-size="8.7" dy="-4.8">-</tspan><tspan dy="4.8">​</tspan></text>
<text transform="translate(176.90,656.60)" font-size="18.1" text-anchor="start" >Suppressor : responder</text>
</svg>
</body></html>
